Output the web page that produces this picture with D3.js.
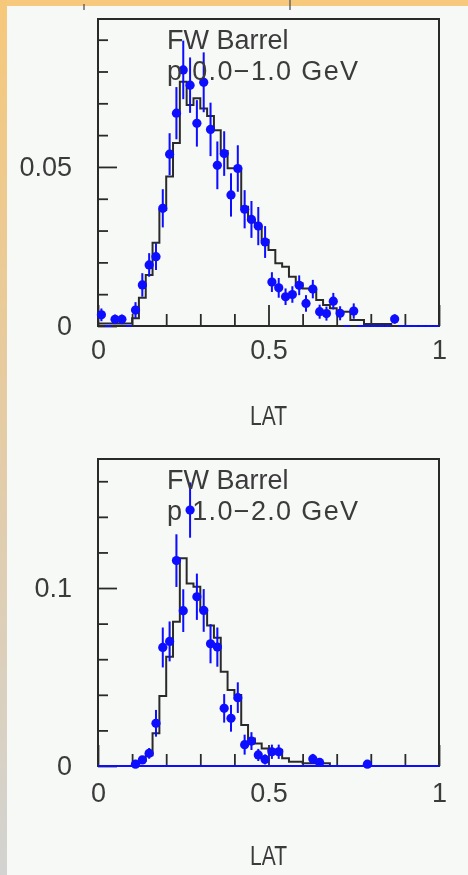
<!DOCTYPE html>
<html>
<head>
<meta charset="utf-8">
<script src="https://cdn.jsdelivr.net/npm/d3@7"></script>
<style>
html,body{margin:0;padding:0;background:#f6f9f6;}
svg{display:block;}
</style>
</head>
<body>
<svg id="chart" width="468" height="875"></svg>
<script>
// ---------------- DATA ----------------
const binCenters = [0.01,0.03,0.05,0.07,0.09,0.11,0.13,0.15,0.17,0.19,
  0.21,0.23,0.25,0.27,0.29,0.31,0.33,0.35,0.37,0.39,
  0.41,0.43,0.45,0.47,0.49,0.51,0.53,0.55,0.57,0.59,
  0.61,0.63,0.65,0.67,0.69,0.71,0.73,0.75,0.77,0.79,
  0.81,0.83,0.85,0.87,0.89,0.91,0.93,0.95,0.97,0.99];
const binWidth = 0.02;

const xTickLabels = ["0", "0.5", "1"];
const xMajorTicks = [0, 0.5, 1];
const xMinorTicks = [0.1, 0.2, 0.3, 0.4, 0.6, 0.7, 0.8, 0.9];
const xAxisTitle = "LAT";

// Panel 1 : p 0.0-1.0 GeV
const topTitle = ["FW Barrel", "p 0.0\u22121.0 GeV"];
const topYTickLabels = ["0", "0.05"];
const topYMajorTicks = [0, 0.05];
const topYMinorTicks = [0.01, 0.02, 0.03, 0.04, 0.06, 0.07, 0.08, 0.09];
const topHist = [0.0008,0.0008,0.0008,0.0008,0.0008,0.0024,0.0089,0.016,0.0262,0.0365,
  0.047,0.0575,0.0768,0.0695,0.0716,0.0684,0.066,0.0615,0.055,0.0496,
  0.0496,0.0375,0.0333,0.0312,0.027,0.0239,0.0197,0.0186,0.0155,0.0134,
  0.0118,0.0113,0.0082,0.0066,0.0056,0.0045,0.0045,0.0019,0.0019,0.0006,
  0.0006,0.0006,0.0006,0,0,0,0,0,0,0];
const topPoints = [0.0035,0,0.0021,0.0021,0,0.005,0.0129,0.0192,0.0218,0.037,
  0.054,0.0669,0.0805,0.0757,0.0637,0.0766,0.0618,0.0505,0.0542,0.0412,
  0.0495,0.0367,0.0335,0.0314,0.0264,0.0138,0.012,0.0092,0.0099,0.0128,
  0.0071,0.0116,0.0045,0.0039,0.0078,0.004,0,0.0047,0,0,
  0,0,0,0.0022,0,0,0,0,0,0];
const topErrors = [0.002,0,0.0015,0.0015,0,0.0025,0.0037,0.0037,0.0042,0.006,
  0.0066,0.0082,0.0092,0.0087,0.0073,0.0094,0.0084,0.0075,0.007,0.0068,
  0.0073,0.006,0.0058,0.006,0.005,0.0031,0.0031,0.0026,0.0026,0.0031,
  0.0026,0.0029,0.0022,0.0022,0.0026,0.0022,0,0.0024,0,0,
  0,0,0,0.0015,0,0,0,0,0,0];

// Panel 2 : p 1.0-2.0 GeV
const bottomTitle = ["FW Barrel", "p 1.0\u22122.0 GeV"];
const bottomYTickLabels = ["0", "0.1"];
const bottomYMajorTicks = [0, 0.1];
const bottomYMinorTicks = [0.02, 0.04, 0.06, 0.08, 0.12, 0.14, 0.16];
const bottomHist = [0,0,0,0,0,0.001,0.003,0.006,0.0184,0.0393,
  0.0614,0.0811,0.1167,0.1026,0.1007,0.088,0.079,0.072,0.053,0.0427,
  0.0399,0.023,0.0155,0.0127,0.0099,0.009,0.009,0.0043,0.0024,0.0024,
  0.0015,0.0015,0.0015,0.0015,0,0,0,0,0,0,
  0,0,0,0,0,0,0,0,0,0];
const bottomPoints = [0,0,0,0,0,0.001,0.0034,0.0071,0.024,0.0666,
  0.07,0.1154,0.0873,0.1438,0.0951,0.0874,0.0687,0.0668,0.0324,0.0268,
  0.0384,0.012,0.014,0.0062,0.0037,0.008,0.008,0,0,0,
  0,0.004,0.002,0,0,0,0,0,0,0.001,
  0,0,0,0,0,0,0,0,0,0];
const bottomErrors = [0,0,0,0,0,0.001,0.002,0.003,0.0075,0.0112,
  0.0112,0.0148,0.012,0.0155,0.013,0.012,0.011,0.011,0.008,0.0075,
  0.0086,0.0056,0.005,0.0034,0.0028,0.004,0.004,0,0,0,
  0,0.0028,0.0018,0,0,0,0,0,0,0.001,
  0,0,0,0,0,0,0,0,0,0];

// ---------------- LAYOUT / STYLE ----------------
const FONT = "'Liberation Sans', Arial, Helvetica, sans-serif";
const TEXT_COLOR = "#3a3a3a";
const LINE_COLOR = "#2b2b2b";
const BLUE = "#0a0aff";

const panels = [
  {top: 19, bottom: 326, ymax: 0.0965, title: topTitle, hist: topHist, pts: topPoints, err: topErrors,
   yLabels: topYTickLabels, yMajor: topYMajorTicks, yMinor: topYMinorTicks, xPad: 14, titleY: 425, fullZero: false},
  {top: 459, bottom: 766, ymax: 0.1725, title: bottomTitle, hist: bottomHist, pts: bottomPoints, err: bottomErrors,
   yLabels: bottomYTickLabels, yMajor: bottomYMajorTicks, yMinor: bottomYMinorTicks, xPad: 17, titleY: 865, fullZero: true}
];
const LEFT = 98, RIGHT = 439;

const svg = d3.select("#chart");
const defs = svg.append("defs");
const grad = defs.append("linearGradient").attr("id","edge").attr("x1",0).attr("y1",0).attr("x2",0).attr("y2",1);
grad.append("stop").attr("offset","0%").attr("stop-color","#f6c87b");
grad.append("stop").attr("offset","50%").attr("stop-color","#e4cca6");
grad.append("stop").attr("offset","100%").attr("stop-color","#d3d3d1");
defs.append("filter").attr("id","soft").attr("x","-5%").attr("y","-5%").attr("width","110%").attr("height","110%")
  .append("feGaussianBlur").attr("stdDeviation",0.55);

svg.append("rect").attr("width",468).attr("height",875).attr("fill","#f6f9f6");
svg.append("rect").attr("x",0).attr("y",0).attr("width",468).attr("height",6).attr("fill","#f6c97c");
svg.append("rect").attr("x",0).attr("y",0).attr("width",7).attr("height",875).attr("fill","url(#edge)");

const root = svg.append("g").attr("filter","url(#soft)");

// remnants of the plot above (cropped)
root.append("line").attr("x1",84).attr("x2",84).attr("y1",4).attr("y2",10).attr("stroke","#666").attr("stroke-width",1.5);
root.append("line").attr("x1",290).attr("x2",290).attr("y1",0).attr("y2",10).attr("stroke","#666").attr("stroke-width",1.5);

const x = d3.scaleLinear().domain([0,1]).range([LEFT,RIGHT]);

panels.forEach(p => {
  const y = d3.scaleLinear().domain([0,p.ymax]).range([p.bottom,p.top]);
  const g = root.append("g");

  // histogram (step line)
  const steps = binCenters.map((c,i) => ({e: c - binWidth/2, v: p.hist[i]}));
  steps.push({e: binCenters[binCenters.length-1] + binWidth/2, v: p.hist[p.hist.length-1]});
  const line = d3.line().x(d => x(d.e)).y(d => y(d.v)).curve(d3.curveStepAfter);
  g.append("path").datum(steps).attr("d", line).attr("fill","none")
    .attr("stroke", LINE_COLOR).attr("stroke-width",2);

  // frame
  g.append("rect").attr("x",LEFT).attr("y",p.top).attr("width",RIGHT-LEFT).attr("height",p.bottom-p.top)
    .attr("fill","none").attr("stroke",LINE_COLOR).attr("stroke-width",2);

  // y axis (inside ticks)
  const yMinorAxis = d3.axisLeft(y).tickValues(p.yMinor).tickSize(-10).tickFormat("");
  const yMajorAxis = d3.axisLeft(y).tickValues(p.yMajor).tickSize(-19).tickPadding(26)
    .tickFormat((d,i) => p.yLabels[i]);
  [yMinorAxis, yMajorAxis].forEach(ax => {
    const a = g.append("g").attr("transform",`translate(${LEFT},0)`).call(ax);
    a.select(".domain").remove();
    a.selectAll(".tick line").attr("stroke",LINE_COLOR).attr("stroke-width",1.8);
    a.selectAll(".tick text").attr("fill",TEXT_COLOR).style("font-family",FONT).style("font-size","27px");
  });

  // x axis (inside ticks)
  const xMinorAxis = d3.axisBottom(x).tickValues(xMinorTicks).tickSize(-12).tickFormat("");
  const xMajorAxis = d3.axisBottom(x).tickValues(xMajorTicks).tickSize(-21).tickPadding(p.xPad)
    .tickFormat((d,i) => xTickLabels[i]);
  [xMinorAxis, xMajorAxis].forEach(ax => {
    const a = g.append("g").attr("transform",`translate(0,${p.bottom})`).call(ax);
    a.select(".domain").remove();
    a.selectAll(".tick line").attr("stroke",LINE_COLOR).attr("stroke-width",1.8);
    a.selectAll(".tick text").attr("fill",TEXT_COLOR).style("font-family",FONT).style("font-size","27px");
  });

  // zero line of the data histogram (blue)
  if (p.fullZero) {
    g.append("line").attr("x1",x(0)).attr("x2",x(1)).attr("y1",y(0)).attr("y2",y(0))
      .attr("stroke",BLUE).attr("stroke-width",2);
  } else {
    g.selectAll("line.zero").data(binCenters.filter((c,i) => p.pts[i] === 0)).enter()
      .append("line").attr("class","zero")
      .attr("x1", c => x(c - binWidth/2)).attr("x2", c => x(c + binWidth/2))
      .attr("y1", y(0)).attr("y2", y(0)).attr("stroke",BLUE).attr("stroke-width",2);
  }

  // data points with error bars
  const data = binCenters.map((c,i) => ({c, v: p.pts[i], e: p.err[i]})).filter(d => d.v > 0);
  const pg = g.append("g");
  pg.selectAll("line.ey").data(data).enter().append("line").attr("class","ey")
    .attr("x1", d => x(d.c)).attr("x2", d => x(d.c))
    .attr("y1", d => y(Math.max(0, d.v - d.e))).attr("y2", d => y(d.v + d.e))
    .attr("stroke",BLUE).attr("stroke-width",2);
  pg.selectAll("line.ex").data(data).enter().append("line").attr("class","ex")
    .attr("x1", d => x(d.c - binWidth/2)).attr("x2", d => x(d.c + binWidth/2))
    .attr("y1", d => y(d.v)).attr("y2", d => y(d.v))
    .attr("stroke",BLUE).attr("stroke-width",2);
  pg.selectAll("circle").data(data).enter().append("circle")
    .attr("cx", d => x(d.c)).attr("cy", d => y(d.v)).attr("r",4.6).attr("fill",BLUE);

  // title text
  g.append("text").attr("x",167).attr("y",p.top + 29.5).text(p.title[0])
    .attr("fill",TEXT_COLOR).style("font-family",FONT).style("font-size","27px");
  g.append("text").attr("x",167).attr("y",p.top + 61).text(p.title[1])
    .attr("textLength",191).attr("lengthAdjust","spacing")
    .attr("fill",TEXT_COLOR).style("font-family",FONT).style("font-size","27px");

  // axis title
  g.append("text").attr("x",x(0.5)).attr("y",p.titleY).attr("text-anchor","middle").text(xAxisTitle)
    .attr("textLength",37).attr("lengthAdjust","spacingAndGlyphs")
    .attr("fill",TEXT_COLOR).style("font-family",FONT).style("font-size","27px");
});
</script>
</body>
</html>
